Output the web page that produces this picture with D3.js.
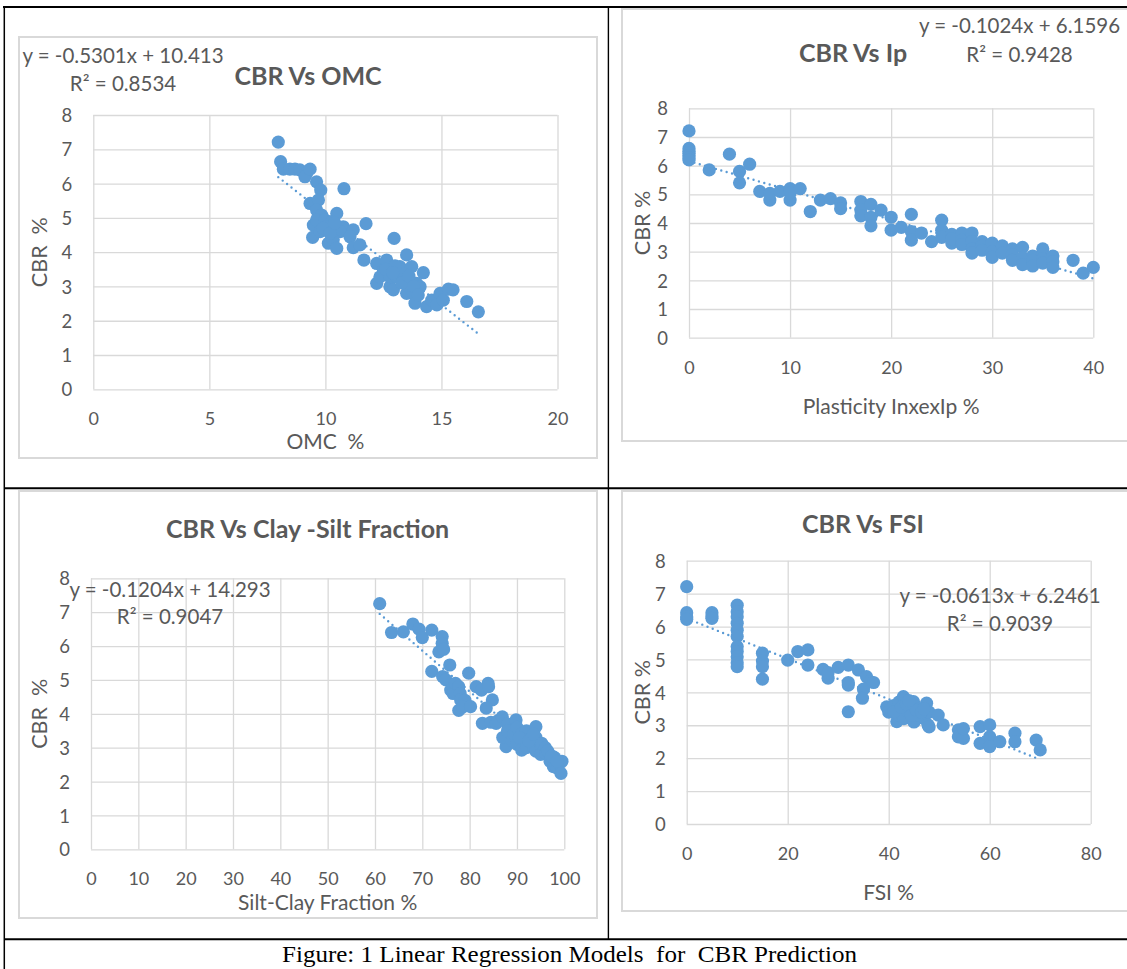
<!DOCTYPE html>
<html><head><meta charset="utf-8">
<script src="https://cdn.jsdelivr.net/npm/d3@7"></script>
<style>html,body{margin:0;padding:0;background:#fff;} svg{display:block;}</style>
</head><body>
<svg id="c" width="1127" height="969"></svg>
<script>
// ---------- DATA ----------
const omcX = [7.97,8.07,8.19,8.47,8.69,8.9,9.19,9.12,9.34,9.62,9.8,10.8,9.34,9.7,9.62,9.84,10.49,9.48,9.62,9.98,10.27,10.06,10.77,11.2,11.75,9.45,9.77,10.63,10.13,10.34,10.49,11.06,11.2,11.49,12.96,11.66,12.21,12.5,12.64,13.21,13.5,13.72,14.22,12.21,12.35,12.78,12.78,13.07,13.35,13.5,12.93,13.5,13.79,13.93,14.08,13.86,14.36,14.58,14.8,14.94,15.08,15.3,15.5,16.09,16.59,12.6,13.0,13.3,13.6,12.9,13.8,14.0,9.9,10.2,10.4];
const omcY = [7.21,6.64,6.42,6.42,6.42,6.4,6.3,6.2,6.42,6.05,5.81,5.85,5.42,5.52,5.23,5.08,5.13,4.79,4.94,4.94,4.89,4.74,4.74,4.65,4.83,4.43,4.6,4.6,4.26,4.36,4.11,4.45,4.13,4.21,4.40,3.77,3.67,3.48,3.77,3.58,3.92,3.58,3.4,3.09,3.28,2.99,3.28,3.28,3.38,3.09,2.9,2.8,2.8,3.09,2.99,2.51,2.41,2.6,2.46,2.8,2.6,2.92,2.9,2.56,2.26,3.5,3.6,3.1,3.3,3.4,3.0,2.75,4.7,4.55,4.85];

const ipX = [0,0,0,0,0,0,0,2,4,5,5,6,7,8,8,9,10,10,10,11,12,13,14,15,15,17,17,17,18,18,18,19,20,20,21,22,22,22,23,24,25,25,25,26,26,26,27,27,27,28,28,28,28,29,29,29,30,30,30,31,31,32,32,32,33,33,33,34,34,34,35,35,35,35,36,36,36,38,39,40];
const ipY = [7.21,6.6,6.5,6.43,6.35,6.26,6.2,5.85,6.4,5.8,5.4,6.05,5.1,4.8,5.03,5.1,5.2,4.8,5.05,5.2,4.4,4.8,4.85,4.7,4.5,4.75,4.45,4.25,4.65,4.2,3.9,4.45,4.2,3.75,3.85,4.3,3.7,3.4,3.65,3.35,4.1,3.75,3.5,3.6,3.3,3.45,3.65,3.4,3.25,3.65,3.35,3.1,2.95,3.35,3.2,3.05,3.3,3.0,2.8,3.2,2.95,3.1,2.9,2.7,3.15,2.8,2.55,2.85,2.7,2.5,3.1,2.9,2.75,2.6,2.85,2.65,2.45,2.7,2.25,2.45];

const scX = [61,63.5,66,68,69.3,70,72,74.2,74.2,73.5,74.5,72,75.8,74.3,75,76,76.5,77,77.7,78,78.1,79,77.7,78.5,79.8,80.2,81.4,82.5,83.9,84,84.8,83.5,82.7,84.5,85.6,86,86.9,88,87.7,87,88,89,89.4,89.8,90,90,91,91,91.9,92,92,93,93.5,94,94,94,95,95,95.2,96,96.1,97,97.7,97.7,98,98.5,99,99.5,99.3,90.5,92.5,93.5,96.5,97.3,98.5];
const scY = [7.25,6.4,6.42,6.65,6.5,6.25,6.47,6.28,6.08,5.83,5.9,5.25,5.44,5.1,5.0,4.7,4.6,4.9,4.8,4.6,4.41,4.4,4.1,4.2,5.2,4.21,4.8,4.7,4.9,4.8,4.41,4.17,3.72,3.75,3.72,3.8,3.91,3.7,3.03,3.3,3.5,3.2,3.42,3.82,3.6,3.1,3.4,2.93,3.23,3.0,3.5,3.3,3.03,3.62,3.3,2.9,2.8,3.1,3.13,3.0,2.83,2.6,2.73,2.44,2.7,2.4,2.54,2.6,2.24,3.3,3.2,3.4,2.9,2.75,2.6];

const fsiX = [0,0,0,0,5,5,5,10,10,10,10,10,10,10,10,10,10,10,15,15,15,15,20,22,24,24,27,28,28,30,32,32,32,32,34,35.6,36.3,35,34.8,37,39.6,40,41,41.6,42,42,42.9,43,43,44,44.9,45,45,46,46,47,47.5,47.8,48,48,49.8,50.8,53.8,53.8,54.8,54.8,58.1,58.1,60,60,60,62,65,65,69.2,70,41,42.5,43.5,44.5,45.5,46.5,47,44];
const fsiY = [7.21,6.42,6.3,6.22,6.42,6.32,6.25,6.65,6.45,6.3,6.1,5.89,5.7,5.39,5.24,5.08,4.9,4.78,5.19,4.95,4.78,4.4,4.98,5.24,5.29,4.83,4.7,4.43,4.6,4.76,4.83,4.22,4.3,3.41,4.68,4.48,4.33,4.1,3.82,4.3,3.56,3.4,3.6,3.11,3.7,3.3,3.87,3.5,3.2,3.4,3.72,3.1,3.6,3.5,3.3,3.2,3.67,3.01,3.4,2.95,3.31,3.01,2.86,2.65,2.6,2.9,2.96,2.45,3.01,2.65,2.35,2.5,2.76,2.5,2.55,2.25,3.4,3.55,3.65,3.3,3.45,3.4,3.5,3.75];

const chartTitles = ["CBR Vs OMC", "CBR Vs Ip", "CBR Vs Clay -Silt Fraction", "CBR Vs FSI"];
const xTitles = ["OMC  %", "Plasticity InxexIp %", "Silt-Clay Fraction %", "FSI %"];
const yTitles = ["CBR  %", "CBR %", "CBR  %", "CBR %"];
const slopes = [-0.5301, -0.1024, -0.1204, -0.0613];
const intercepts = [10.413, 6.1596, 14.293, 6.2461];
const rSquared = [0.8534, 0.9428, 0.9047, 0.9039];
const xTickSets = [[0,5,10,15,20],[0,10,20,30,40],[0,10,20,30,40,50,60,70,80,90,100],[0,20,40,60,80]];
const yTicks = [0,1,2,3,4,5,6,7,8];
const caption = "Figure: 1 Linear Regression Models  for  CBR Prediction";

// ---------- LAYOUT ----------
const layout = [
  {box:[19,37,578,421], l:93.3, r:557.5, t:115, b:389.3, title:[308,76], eq:[123,62.5,90.5], yT:39.5, xT:441.5},
  {box:[622,9,530,432], l:689, r:1093.3, t:108.3, b:337.7, title:[853,53], eq:[1019.5,33,61.5], yT:642, xT:406},
  {box:[19,491,578,427], l:91, r:564.3, t:578.3, b:849.3, title:[307.6,529], eq:[170,596.5,624], yT:39.5, xT:902.5},
  {box:[622,491,530,420], l:686.7, r:1090.7, t:560.7, b:824, title:[863,524], eq:[1000,603,630.5], yT:642, xT:892}
];
const seriesX = [omcX, ipX, scX, fsiX];
const seriesY = [omcY, ipY, scY, fsiY];

const FONT = "Lato, 'Open Sans', sans-serif";
const TXT = "#595959";
const GRID = "#d9d9d9";
const BLUE = "#5b9bd5";

const svg = d3.select("#c");
svg.append("rect").attr("width",1127).attr("height",969).attr("fill","#fff");

layout.forEach((L, i) => {
  const g = svg.append("g");
  const [bx,by,bw,bh] = L.box;
  g.append("rect").attr("x",bx).attr("y",by).attr("width",bw).attr("height",bh)
    .attr("fill","#fff").attr("stroke","#d9d9d9").attr("stroke-width",2);

  const xt = xTickSets[i];
  const x = d3.scaleLinear().domain([xt[0], xt[xt.length-1]]).range([L.l, L.r]);
  const y = d3.scaleLinear().domain([0,8]).range([L.b, L.t]);

  // grid
  g.append("g").attr("transform",`translate(0,${L.b})`)
    .call(d3.axisBottom(x).tickValues(xt).tickSize(-(L.b-L.t)).tickFormat(""))
    .call(s=>{s.select(".domain").remove(); s.selectAll("line").attr("stroke",GRID).attr("stroke-width",1.3);});
  g.append("g").attr("transform",`translate(${L.l},0)`)
    .call(d3.axisLeft(y).tickValues(yTicks).tickSize(-(L.r-L.l)).tickFormat(""))
    .call(s=>{s.select(".domain").remove(); s.selectAll("line").attr("stroke",GRID).attr("stroke-width",1.3);});

  // tick labels
  g.append("g").attr("transform",`translate(0,${L.b})`)
    .call(d3.axisBottom(x).tickValues(xt).tickSize(0).tickFormat(d3.format("d")))
    .call(s=>{s.select(".domain").remove();
      s.selectAll("text").attr("y",29.5).attr("dy","0.36em").attr("fill",TXT)
        .style("font-family",FONT).style("font-size","18px");});
  g.append("g").attr("transform",`translate(${L.l},0)`)
    .call(d3.axisLeft(y).tickValues(yTicks).tickSize(0).tickFormat(d3.format("d")))
    .call(s=>{s.select(".domain").remove();
      s.selectAll("text").attr("x",-21).attr("dy","0.36em").attr("fill",TXT)
        .style("font-family",FONT).style("font-size","18.5px");});

  // trendline
  const xs = seriesX[i], ys = seriesY[i];
  const [xmin,xmax] = d3.extent(xs);
  const tl = [xmin,xmax].map(v=>[v, slopes[i]*v+intercepts[i]]);
  g.append("path").attr("d", d3.line().x(d=>x(d[0])).y(d=>y(d[1]))(tl))
    .attr("stroke",BLUE).attr("stroke-width",2.4).attr("stroke-linecap","round")
    .attr("stroke-dasharray","0 5.6").attr("fill","none");

  // points
  g.append("g").selectAll("circle").data(xs.map((v,k)=>[v, ys[k]])).join("circle")
    .attr("cx",d=>x(d[0])).attr("cy",d=>y(d[1])).attr("r",6.6).attr("fill",BLUE);

  // titles
  g.append("text").attr("x",L.title[0]).attr("y",L.title[1]).attr("dy","0.36em")
    .attr("text-anchor","middle").attr("fill",TXT).style("font-family",FONT)
    .style("font-weight","bold").style("font-size","25px").text(chartTitles[i]);
  g.append("text").attr("x",(L.l+L.r)/2).attr("y",L.xT).attr("dy","0.36em")
    .attr("text-anchor","middle").attr("fill",TXT).style("font-family",FONT)
    .style("font-size","21px").style("white-space","pre").text(xTitles[i]);
  g.append("text").attr("transform",`translate(${L.yT},${(L.t+L.b)/2}) rotate(-90)`).attr("dy","0.36em")
    .attr("text-anchor","middle").attr("fill",TXT).style("font-family",FONT)
    .style("font-size","21.5px").style("white-space","pre").text(yTitles[i]);

  // equation
  const eq = g.append("text").attr("text-anchor","middle").attr("fill",TXT)
    .style("font-family",FONT).style("font-size","20.5px");
  eq.append("tspan").attr("x",L.eq[0]).attr("y",L.eq[1])
    .text(`y = ${slopes[i]}x + ${intercepts[i]}`);
  eq.append("tspan").attr("x",L.eq[0]).attr("y",L.eq[2])
    .text(`R² = ${rSquared[i]}`);
});

// ---------- TABLE FRAME ----------
const frame = svg.append("g").attr("stroke","#000").attr("fill","none");
frame.append("line").attr("x1",3).attr("x2",1127).attr("y1",7).attr("y2",7).attr("stroke-width",2);
frame.append("line").attr("x1",4.3).attr("x2",4.3).attr("y1",6).attr("y2",969).attr("stroke-width",1.5);
frame.append("line").attr("x1",608.4).attr("x2",608.4).attr("y1",7).attr("y2",939).attr("stroke-width",1.4);
frame.append("line").attr("x1",4).attr("x2",1127).attr("y1",488.3).attr("y2",488.3).attr("stroke-width",2);
frame.append("line").attr("x1",4).attr("x2",1127).attr("y1",939.3).attr("y2",939.3).attr("stroke-width",2);

svg.append("text").attr("x",569.5).attr("y",961.5).attr("text-anchor","middle")
  .attr("fill","#000").style("font-family","'Liberation Serif', 'Times New Roman', serif")
  .style("font-size","23px").style("white-space","pre")
  .attr("textLength",575).attr("lengthAdjust","spacingAndGlyphs").text(caption);
</script>
</body></html>
